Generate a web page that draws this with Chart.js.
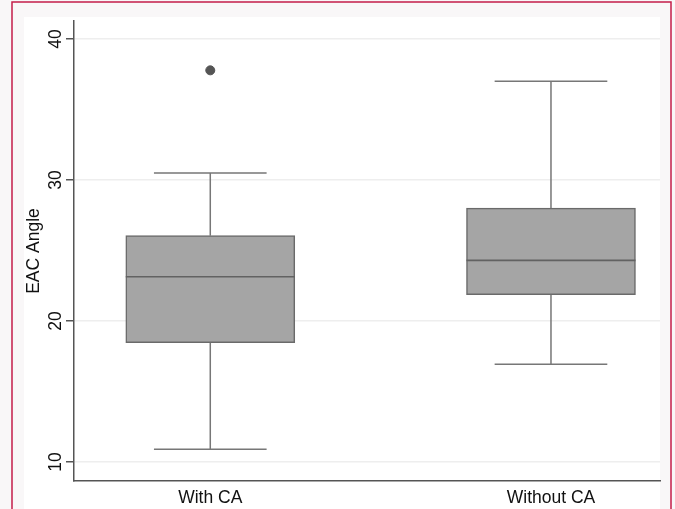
<!DOCTYPE html>
<html>
<head>
<meta charset="utf-8">
<script src="https://cdn.jsdelivr.net/npm/chart.js@4/dist/chart.umd.min.js"></script>
<style>
  html, body { margin: 0; padding: 0; background: #ffffff; }
  #wrap { width: 675px; height: 509px; }
</style>
</head>
<body>
<div id="wrap"><canvas id="boxChart"></canvas></div>
<script>
// box plot summary
const groups = ['With CA', 'Without CA'];
const groupPos = [1, 2];
const lowerWhisker = [10.9, 16.93];
const q1 = [18.46, 21.87];
const median = [23.14, 24.3];
const q3 = [26.05, 28.01];
const upperWhisker = [30.5, 37.0];
const outliers = [[37.78], []];
const yTicks = [10, 20, 30, 40];

const BOX_PX = 169;
const LINE_GREY = '#777777';
const AXIS_GREY = '#555555';
const FONT = 'Liberation Sans, Arial, Helvetica, sans-serif';

// Stata-ish frame behind the graph
const framePlugin = {
    id: 'frame',
    beforeDraw(chart) {
        const { ctx, width, height } = chart;
        ctx.save();
        ctx.fillStyle = '#f9f7f8';
        ctx.fillRect(0, 0, width, height);
        ctx.fillStyle = '#ffffff';
        ctx.fillRect(24, 17, 636, height - 17);
        ctx.strokeStyle = '#c41e4a';
        ctx.lineWidth = 1.5;
        ctx.strokeRect(12, 2, 659, height + 10);
        ctx.restore();
    }
};

// whiskers, caps and medians drawn through the scales
const whiskerPlugin = {
    id: 'whiskers',
    afterDatasetsDraw(chart) {
        const { ctx, scales: { x, y } } = chart;
        ctx.save();
        groupPos.forEach((pos, i) => {
            const cx = x.getPixelForValue(pos);
            const capHalf = BOX_PX / 3;
            const boxHalf = BOX_PX / 2;

            ctx.strokeStyle = LINE_GREY;
            ctx.lineWidth = 1.5;
            ctx.beginPath();
            // upper whisker
            ctx.moveTo(cx, y.getPixelForValue(q3[i]));
            ctx.lineTo(cx, y.getPixelForValue(upperWhisker[i]));
            ctx.moveTo(cx - capHalf, y.getPixelForValue(upperWhisker[i]));
            ctx.lineTo(cx + capHalf, y.getPixelForValue(upperWhisker[i]));
            // lower whisker
            ctx.moveTo(cx, y.getPixelForValue(q1[i]));
            ctx.lineTo(cx, y.getPixelForValue(lowerWhisker[i]));
            ctx.moveTo(cx - capHalf, y.getPixelForValue(lowerWhisker[i]));
            ctx.lineTo(cx + capHalf, y.getPixelForValue(lowerWhisker[i]));
            ctx.stroke();

            // median
            ctx.strokeStyle = '#626262';
            ctx.lineWidth = 1.6;
            ctx.beginPath();
            ctx.moveTo(cx - boxHalf, y.getPixelForValue(median[i]));
            ctx.lineTo(cx + boxHalf, y.getPixelForValue(median[i]));
            ctx.stroke();
        });
        ctx.restore();
    }
};

const outlierPoints = [];
outliers.forEach((list, i) => {
    list.forEach(v => outlierPoints.push({ x: groupPos[i], y: v }));
});

const ctx = document.getElementById('boxChart').getContext('2d');
new Chart(ctx, {
    type: 'bar',
    data: {
        datasets: [
            {
                label: 'IQR',
                data: groupPos.map((pos, i) => ({ x: pos, y: [q1[i], q3[i]] })),
                backgroundColor: '#a5a5a5',
                borderColor: '#6a6a6a',
                borderWidth: 1.5,
                borderSkipped: false,
                barThickness: BOX_PX,
                order: 2
            },
            {
                type: 'scatter',
                label: 'Outliers',
                data: outlierPoints,
                backgroundColor: '#555555',
                borderColor: '#555555',
                pointRadius: 4.5,
                order: 1
            }
        ]
    },
    options: {
        responsive: true,
        maintainAspectRatio: false,
        animation: false,
        layout: { padding: { left: 24, right: 15, top: 21, bottom: 0 } },
        plugins: {
            legend: { display: false },
            tooltip: { enabled: false }
        },
        scales: {
            x: {
                type: 'linear',
                offset: false,
                min: 0.6,
                max: 2.32,
                afterBuildTicks: (scale) => {
                    scale.ticks = groupPos.map(v => ({ value: v }));
                },
                afterFit: (scale) => { scale.height = 28; },
                grid: { display: false, drawTicks: false },
                border: { display: true, color: AXIS_GREY, width: 1.5 },
                ticks: {
                    color: '#111111',
                    font: { family: FONT, size: 17.5 },
                    padding: 7,
                    maxRotation: 0,
                    autoSkip: false,
                    callback: (v) => groups[groupPos.indexOf(v)] ?? ''
                }
            },
            y: {
                type: 'linear',
                min: 8.65,
                max: 41.28,
                afterBuildTicks: (scale) => {
                    scale.ticks = yTicks.map(v => ({ value: v }));
                },
                afterFit: (scale) => { scale.width = 50; },
                grid: {
                    color: '#eeeeee',
                    lineWidth: 1.5,
                    tickColor: AXIS_GREY,
                    tickLength: 8,
                    tickWidth: 1.5
                },
                border: { display: true, color: AXIS_GREY, width: 1.5 },
                ticks: {
                    color: '#111111',
                    font: { family: FONT, size: 17.5 },
                    minRotation: 90,
                    maxRotation: 90,
                    crossAlign: 'center',
                    padding: 0
                },
                title: {
                    display: true,
                    text: 'EAC Angle',
                    color: '#111111',
                    font: { family: FONT, size: 17.5 },
                    padding: 0
                }
            }
        }
    },
    plugins: [framePlugin, whiskerPlugin]
});
</script>
</body>
</html>
